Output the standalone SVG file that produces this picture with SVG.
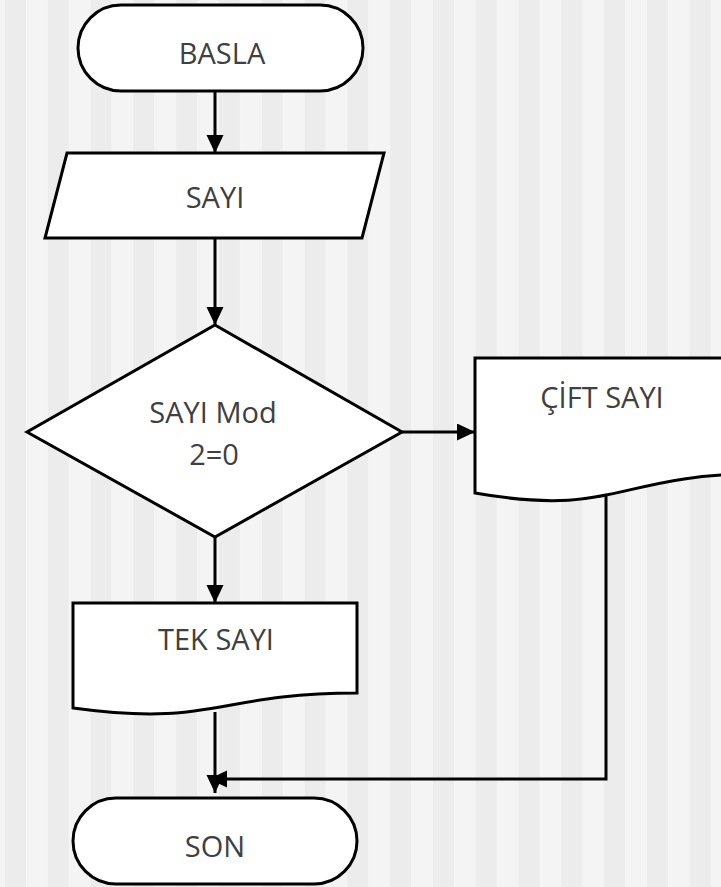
<svg xmlns="http://www.w3.org/2000/svg" width="721" height="887" viewBox="0 0 721 887">
  <defs>
    <pattern id="stripes" patternUnits="userSpaceOnUse" x="5" y="0" width="42.8" height="887">
      <rect x="0" y="0" width="21.4" height="887" fill="#ececec"/>
      <rect x="21.4" y="0" width="21.4" height="887" fill="#f4f4f4"/>
    </pattern>
    <marker id="arrow" markerUnits="userSpaceOnUse" markerWidth="20" markerHeight="18" refX="18" refY="8.5" orient="auto">
      <path d="M0,0 L18,8.5 L0,17 Z" fill="#000"/>
    </marker>
    <style>
      .shape { fill: #fff; stroke: #000; stroke-width: 3; stroke-linejoin: miter; }
      .label { font-family: "Open Sans", "Liberation Sans", sans-serif; font-size: 29px; fill: #404040; text-anchor: middle; }
      .conn { fill: none; stroke: #000; stroke-width: 3; marker-end: url(#arrow); }
    </style>
  </defs>

  <!-- striped backdrop -->
  <rect x="0" y="0" width="721" height="887" fill="url(#stripes)"/>

  <!-- connectors -->
  <g id="connectors">
    <path class="conn" d="M215,91 V153"/>
    <path class="conn" d="M215,238 V325"/>
    <path class="conn" d="M402,432 H475"/>
    <path class="conn" d="M215,537 V603"/>
    <path class="conn" d="M215,712 V793"/>
    <path class="conn" d="M606,493 V779 H209"/>
  </g>

  <g id="start">
    <rect class="shape" x="78" y="5" width="285" height="86" rx="43" ry="43"/>
    <text class="label" x="222" y="64">BASLA</text>
  </g>

  <g id="input">
    <polygon class="shape" points="67,153 384,153 362,238 45,238"/>
    <text class="label" x="215" y="208">SAYI</text>
  </g>

  <g id="decision">
    <polygon class="shape" points="215,325 402,432 215,537 27,432"/>
    <text class="label" x="213" y="423">SAYI Mod</text>
    <text class="label" x="214" y="465">2=0</text>
  </g>

  <g id="even">
    <path class="shape" d="M475,358 H759 V473.9 C617,473.9 617,518 475,493 Z"/>
    <text class="label" x="602" y="408">ÇİFT SAYI</text>
  </g>

  <g id="odd">
    <path class="shape" d="M73,603 H357 V693.1 C215,693.1 215,727.4 73,708 Z"/>
    <text class="label" x="216" y="650">TEK SAYI</text>
  </g>

  <g id="end">
    <rect class="shape" x="73" y="798" width="284" height="86" rx="43" ry="43"/>
    <text class="label" x="215" y="857">SON</text>
  </g>
</svg>
